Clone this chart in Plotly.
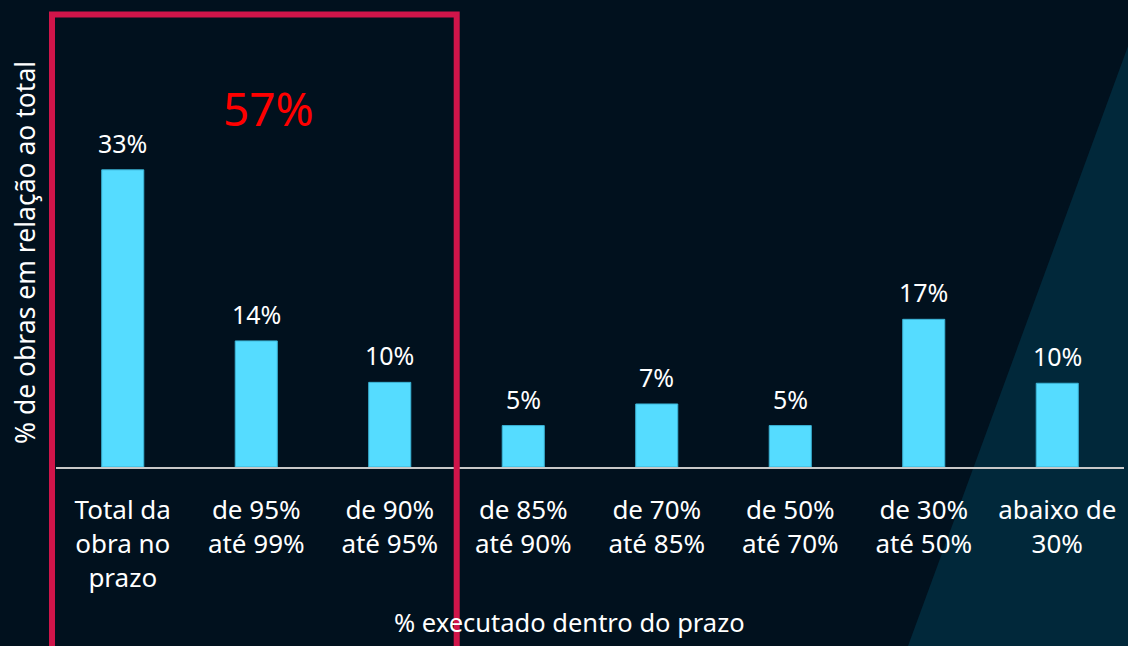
import plotly.graph_objects as go

categories = ['Total da<br>obra no<br>prazo', 'de 95%<br>até 99%', 'de 90%<br>até 95%', 'de 85%<br>até 90%',
              'de 70%<br>até 85%', 'de 50%<br>até 70%', 'de 30%<br>até 50%', 'abaixo de<br>30%']
values = [33.0, 14.0, 9.4, 4.6, 7.0, 4.6, 16.4, 9.3]
labels = ['33%', '14%', '10%', '5%', '7%', '5%', '17%', '10%']
highlight_text = '57%'

W, H = 1128, 646
L, R, T, B = 56, 4, 10, 179

FONT = 'Noto Sans'
BG = '#01111e'
BAND = '#01283a'
BAR = '#55dcff'
RED = '#d0154a'


def px_to_paper(px, py):
    # pixel position on the page -> paper coordinates
    return (px - L) / (W - L - R), (H - B - py) / (H - T - B)


fig = go.Figure()

fig.add_trace(go.Bar(x=list(range(len(values))), y=values,
                     marker=dict(color=BAR, line=dict(color='#3bb4d6', width=1)),
                     width=0.315, hoverinfo='skip'))

for i, (v, lab) in enumerate(zip(values, labels)):
    fig.add_annotation(x=i, y=v, text=lab, showarrow=False, xanchor='center', yanchor='middle', yshift=27,
                       font=dict(family=FONT, size=25, color='white'))

# diagonal lighter band on the right
p1 = px_to_paper(908, 646)
p2 = px_to_paper(1145, 0)
p3 = px_to_paper(1200, 0)
p4 = px_to_paper(1200, 646)
fig.add_shape(type='path', xref='paper', yref='paper', layer='below', line=dict(width=0),
              fillcolor=BAND,
              path=f'M {p1[0]} {p1[1]} L {p2[0]} {p2[1]} L {p3[0]} {p3[1]} L {p4[0]} {p4[1]} Z')

# red highlight box around first three groups
x0, ytop = px_to_paper(52, 14.5)
x1, ybot = px_to_paper(456.7, 700)
fig.add_shape(type='rect', xref='paper', yref='paper', x0=x0, x1=x1, y0=ybot, y1=ytop,
              line=dict(color=RED, width=6), layer='above')

tx, ty = px_to_paper(268, 108)
fig.add_annotation(x=tx, y=ty, xref='paper', yref='paper', text=highlight_text, showarrow=False,
                   xanchor='center', yanchor='middle',
                   font=dict(family=FONT, size=46, color='#ff0000'))

xt, yt = px_to_paper(569, 622)
fig.add_annotation(x=xt, y=yt, xref='paper', yref='paper', text='% executado dentro do prazo',
                   showarrow=False, xanchor='center', yanchor='middle',
                   font=dict(family=FONT, size=25.5, color='white'))

xy, yy = px_to_paper(25, 253)
fig.add_annotation(x=xy, y=yy, xref='paper', yref='paper', text='% de obras em relação ao total',
                   showarrow=False, textangle=-90, xanchor='center', yanchor='middle',
                   font=dict(family=FONT, size=26.5, color='white'))

fig.update_xaxes(tickmode='array', tickvals=list(range(len(values))), ticktext=categories,
                 range=[-0.5, len(values) - 0.5], showline=True, linecolor='#c8c8c8', linewidth=2,
                 showgrid=False, zeroline=False, ticks='', ticklabelstandoff=19,
                 tickfont=dict(family=FONT, size=26, color='white'))
fig.update_yaxes(range=[0, 50.75], visible=False, showgrid=False, zeroline=False)

fig.update_layout(width=W, height=H, margin=dict(l=L, r=R, t=T, b=B),
                  paper_bgcolor=BG, plot_bgcolor='rgba(0,0,0,0)', showlegend=False,
                  bargap=0.685)

fig.write_html('out.html', config={'displayModeBar': False},
               post_script="document.body.style.margin='0px';")
